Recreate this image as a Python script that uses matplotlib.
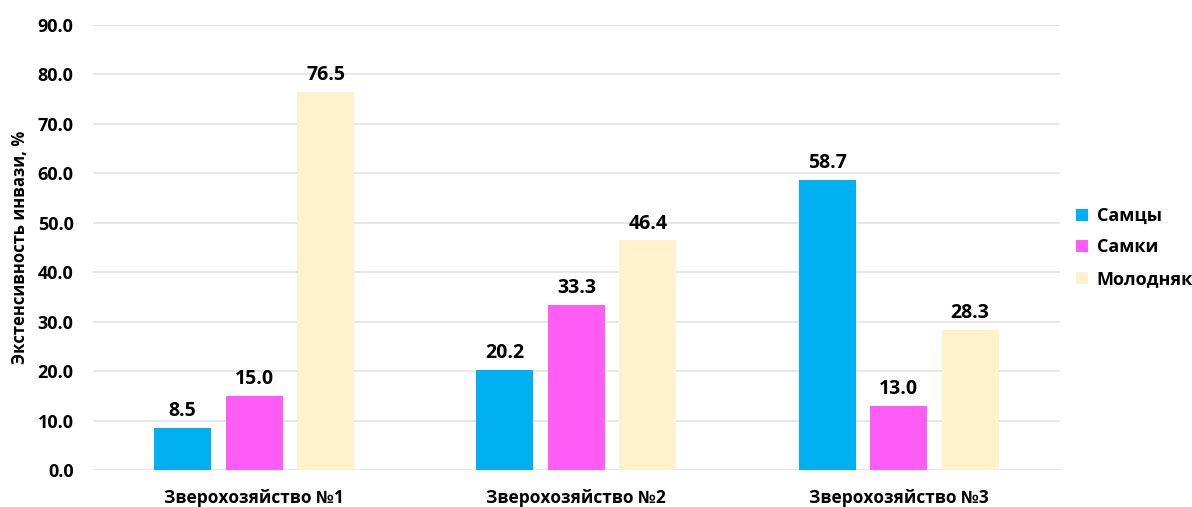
import matplotlib.pyplot as plt
import numpy as np

plt.rcParams['font.family'] = ['Open Sans', 'DejaVu Sans']
plt.rcParams['font.weight'] = 'bold'

farms = ['Зверохозяйство №1', 'Зверохозяйство №2', 'Зверохозяйство №3']
males = [8.5, 20.2, 58.7]
females = [15.0, 33.3, 13.0]
young = [76.5, 46.4, 28.3]
series_names = ['Самцы', 'Самки', 'Молодняк']
colors = ['#00B0F0', '#FF5CF5', '#FFF2CC']

fig = plt.figure(figsize=(11.92, 5.07), dpi=100)
ax = fig.add_axes([0.078, 0.073, 0.811, 0.878])

x = np.arange(len(farms))
bar_width = 0.177
step = 0.222

for i, (vals, name, c) in enumerate(zip([males, females, young], series_names, colors)):
    pos = x + (i - 1) * step
    ax.bar(pos, vals, width=bar_width, color=c, label=name, zorder=3)
    for px, v in zip(pos, vals):
        ax.annotate(f'{v:.1f}', (px, v), xytext=(0, 5), textcoords='offset points',
                    ha='center', va='bottom', fontsize=14, fontweight='bold')

ax.set_xlim(-0.5, 2.5)
ax.set_ylim(0, 90)
ax.set_yticks(np.arange(0, 91, 10))
ax.set_yticklabels([f'{t:.1f}' for t in np.arange(0, 91, 10)])
ax.set_xticks(x)
ax.set_xticklabels(farms)
ax.tick_params(axis='y', length=0, labelsize=13, pad=14)
ax.tick_params(axis='x', length=0, labelsize=12.5, pad=14)
ax.grid(axis='y', color='#E3E3E3', linewidth=1.2, zorder=0)
for s in ax.spines.values():
    s.set_visible(False)

ax.set_ylabel('Экстенсивность инвази, %', fontsize=12, fontweight='bold', labelpad=6)

ax.legend(loc='center left', bbox_to_anchor=(1.0, 0.5), frameon=False, fontsize=13,
          handlelength=0.65, handleheight=0.65, handletextpad=0.5, labelspacing=0.75)

fig.savefig('out.png', dpi=100)
